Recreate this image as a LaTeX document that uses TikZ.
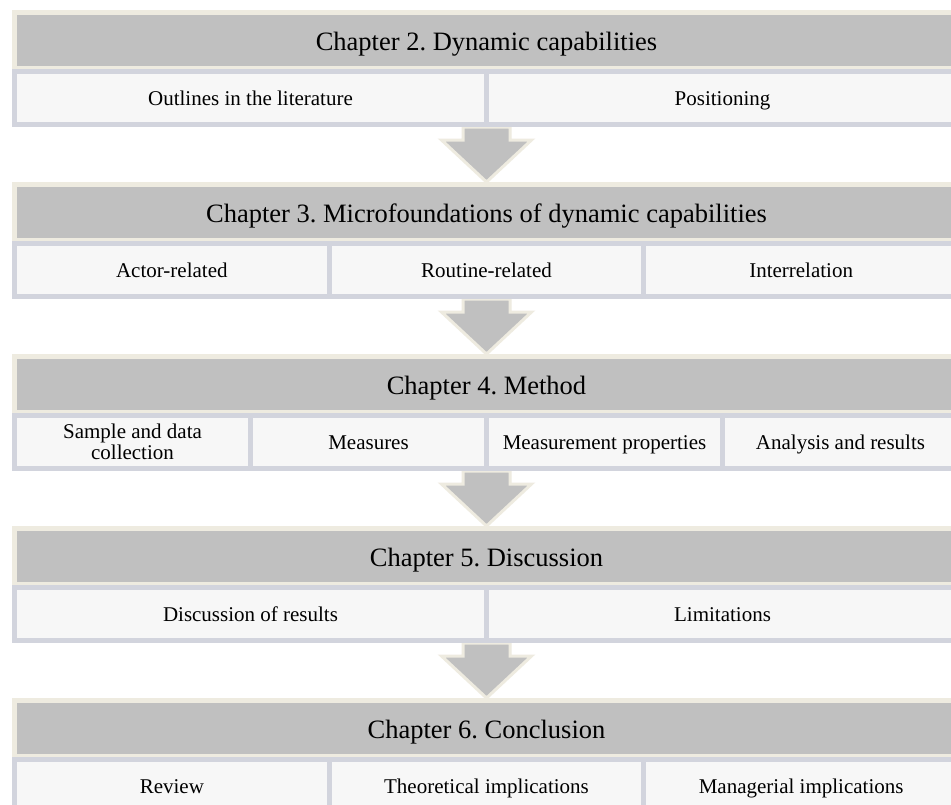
\documentclass[tikz,border=0pt]{standalone}
\usepackage{fontspec}
\setmainfont{Liberation Serif}
\usetikzlibrary{calc,backgrounds}
\definecolor{hdrgray}{HTML}{C0C0C0}
\definecolor{cream}{HTML}{EEEBE0}
\definecolor{cellfill}{HTML}{F7F7F7}
\definecolor{celledge}{HTML}{D2D4DD}
\frenchspacing
\tikzset{
 hdr/.style={draw=cream, fill=hdrgray, line width=4.5pt, minimum width=944.5pt, minimum height=55.5pt, inner sep=0pt, font=\fontsize{26.5}{28}\selectfont\frenchspacing, text height=26pt, text depth=4.8pt},
 cellbase/.style={draw=celledge, fill=cellfill, line width=5pt, minimum height=53pt, inner sep=0pt, align=center, font=\fontsize{21}{21}\selectfont},
 cell/.style={cellbase, text height=18pt, text depth=3.5pt},
 ctwo/.style={cell, minimum width=472pt},
 cthree/.style={cell, minimum width=314.667pt},
 cfour/.style={cell, minimum width=236pt},
 cfourml/.style={cellbase, minimum width=236pt},
 barrow/.style={draw=cream, fill=hdrgray, line width=3pt, line join=miter}
}
\newcommand\blockarr[2]{\draw[barrow] ($(#1)+(-23.5,0)$) -- ($(#1)+(23.5,0)$) -- ($(#2)+(23.5,-42)$) -- ($(#2)+(45,-42)$) -- (#2) -- ($(#2)+(-45,-42)$) -- ($(#2)+(-23.5,-42)$) -- cycle;}
\begin{document}
\begin{tikzpicture}[x=1pt,y=-1pt]
\useasboundingbox (0,0) rectangle (951,804);
% Block 1
\node[hdr] (h1) at (486.5,40) {Chapter 2. Dynamic capabilities};
\node[ctwo] (c1a) at (250.5,98) {Outlines in the literature};
\node[ctwo] (c1b) at (722.5,98) {Positioning};
% Block 2
\node[hdr] (h2) at (486.5,212) {Chapter 3. Microfoundations of dynamic capabilities};
\node[cthree] (c2a) at (171.833,270) {Actor-related};
\node[cthree] (c2b) at (486.5,270) {Routine-related};
\node[cthree] (c2c) at (801.167,270) {Interrelation};
% Block 3
\node[hdr] (h3) at (486.5,384) {Chapter 4. Method};
\node[cfourml] (c3a) at (132.5,442) {Sample and data\\collection};
\node[cfour] (c3b) at (368.5,442) {Measures};
\node[cfour] (c3c) at (604.5,442) {Measurement properties};
\node[cfour] (c3d) at (840.5,442) {Analysis and results};
% Block 4
\node[hdr] (h4) at (486.5,556) {Chapter 5. Discussion};
\node[ctwo] (c4a) at (250.5,614) {Discussion of results};
\node[ctwo] (c4b) at (722.5,614) {Limitations};
% Block 5
\node[hdr] (h5) at (486.5,728) {Chapter 6. Conclusion};
\node[cthree] (c5a) at (171.833,786) {Review};
\node[cthree] (c5b) at (486.5,786) {Theoretical implications};
\node[cthree] (c5c) at (801.167,786) {Managerial implications};
% arrow start points
\coordinate (s1) at (h1.south |- c1a.south);
\coordinate (s2) at (h2.south |- c2a.south);
\coordinate (s3) at (h3.south |- c3a.south);
\coordinate (s4) at (h4.south |- c4a.south);
\begin{scope}[on background layer]
\fill[white] (0,0) rectangle (951,804);
\blockarr{s1}{h2.north}
\blockarr{s2}{h3.north}
\blockarr{s3}{h4.north}
\blockarr{s4}{h5.north}
\end{scope}
\end{tikzpicture}
\end{document}
